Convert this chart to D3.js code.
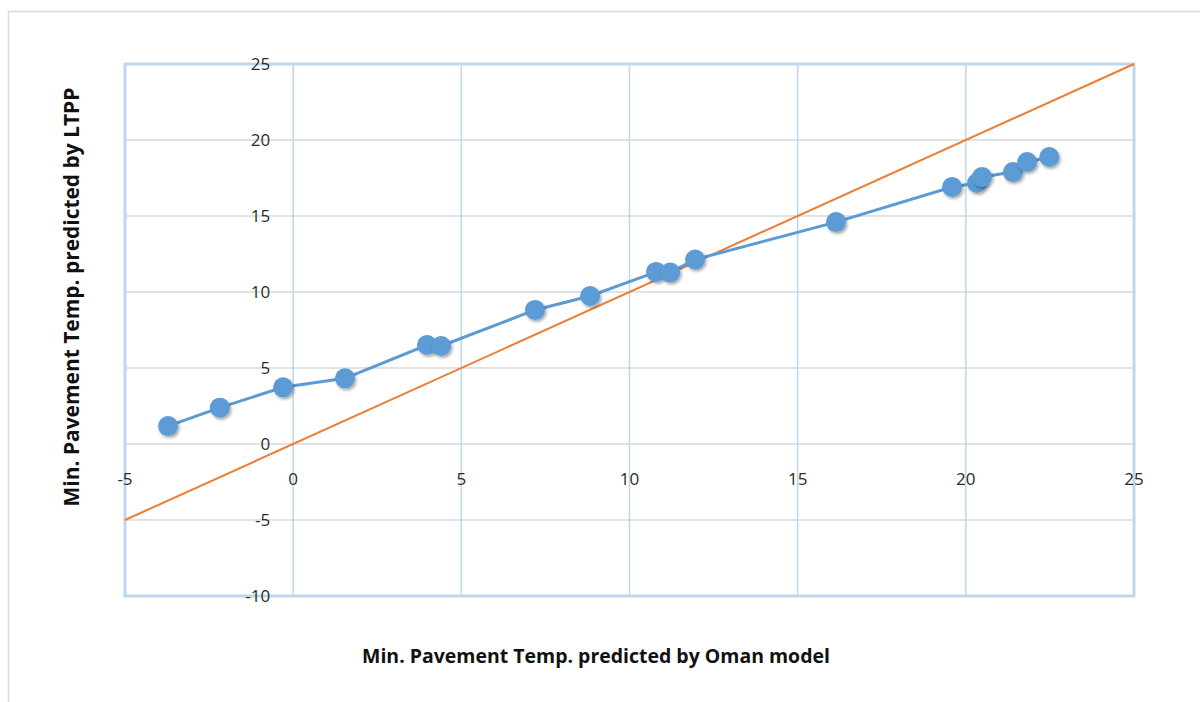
<!DOCTYPE html>
<html>
<head>
<meta charset="utf-8">
<script src="https://cdn.jsdelivr.net/npm/d3@7"></script>
<style>
  html, body { margin: 0; padding: 0; background: #fff; }
  svg { display: block; }
  text { font-family: "Open Sans", Lato, sans-serif; }
</style>
</head>
<body>
<svg id="chart" width="1200" height="702"></svg>
<script>
// Minimum pavement temperature: Oman model (x) vs LTPP (y)
const omanModel = [-3.72, -2.18, -0.30, 1.54, 3.98, 4.40, 7.19, 8.83, 10.79, 11.21, 11.95, 16.14, 19.59, 20.33, 20.48, 21.40, 21.82, 22.48];
const ltppModel = [1.18, 2.39, 3.73, 4.32, 6.51, 6.45, 8.82, 9.74, 11.32, 11.28, 12.14, 14.60, 16.91, 17.17, 17.57, 17.89, 18.55, 18.88];
// Line of equality
const equalityX = [-5, 25];
const equalityY = [-5, 25];

const xTicks = [-5, 0, 5, 10, 15, 20, 25];
const yTicks = [-10, -5, 0, 5, 10, 15, 20, 25];

const xTitle = "Min. Pavement Temp. predicted by Oman model";
const yTitle = "Min. Pavement Temp. predicted by LTPP";

const svg = d3.select("#chart");
const plot = { left: 125, right: 1134, top: 64, bottom: 596 };

const x = d3.scaleLinear().domain([-5, 25]).range([plot.left, plot.right]);
const y = d3.scaleLinear().domain([-10, 25]).range([plot.bottom, plot.top]);

// Outer chart frame
svg.append("rect")
  .attr("x", 8.5).attr("y", 11.5)
  .attr("width", 1400).attr("height", 900)
  .attr("fill", "#fff").attr("stroke", "#d9d9d9").attr("stroke-width", 1.5);

const defs = svg.append("defs");
const shadow = defs.append("filter").attr("id", "markerShadow")
  .attr("x", "-50%").attr("y", "-50%").attr("width", "200%").attr("height", "200%");
shadow.append("feDropShadow")
  .attr("dx", 1.5).attr("dy", 2).attr("stdDeviation", 1.8)
  .attr("flood-color", "#000").attr("flood-opacity", 0.35);

// Horizontal gridlines
svg.append("g")
  .selectAll("line")
  .data(yTicks)
  .join("line")
  .attr("x1", plot.left).attr("x2", plot.right)
  .attr("y1", d => y(d)).attr("y2", d => y(d))
  .attr("stroke", "#d9d9d9").attr("stroke-width", 1.5);

// Vertical gridlines
svg.append("g")
  .selectAll("line")
  .data(xTicks)
  .join("line")
  .attr("x1", d => x(d)).attr("x2", d => x(d))
  .attr("y1", plot.top).attr("y2", plot.bottom)
  .attr("stroke", "#bdd7ee").attr("stroke-width", 1.5);

// Plot area border
svg.append("rect")
  .attr("x", plot.left).attr("y", plot.top)
  .attr("width", plot.right - plot.left).attr("height", plot.bottom - plot.top)
  .attr("fill", "none").attr("stroke", "#bdd7ee").attr("stroke-width", 3);

// Tick labels: y labels sit beside the x = 0 line, x labels below the y = 0 line
svg.append("g")
  .selectAll("text")
  .data(yTicks)
  .join("text")
  .attr("x", x(0) - 23)
  .attr("y", d => y(d))
  .attr("dy", "0.36em")
  .attr("text-anchor", "end")
  .attr("font-size", 17)
  .attr("fill", "#2b2b2b")
  .text(d => d);

svg.append("g")
  .selectAll("text")
  .data(xTicks)
  .join("text")
  .attr("x", d => x(d))
  .attr("y", y(0) + 35)
  .attr("dy", "0.36em")
  .attr("text-anchor", "middle")
  .attr("font-size", 17)
  .attr("fill", "#2b2b2b")
  .text(d => d);

// Line of equality
const line = d3.line().x(d => x(d[0])).y(d => y(d[1]));
svg.append("path")
  .datum(d3.zip(equalityX, equalityY))
  .attr("d", line)
  .attr("fill", "none")
  .attr("stroke", "#ed7d31")
  .attr("stroke-width", 2);

// Model comparison series
const pts = d3.zip(omanModel, ltppModel).sort((a, b) => a[0] - b[0]);
svg.append("path")
  .datum(pts)
  .attr("d", line)
  .attr("fill", "none")
  .attr("stroke", "#5b9bd5")
  .attr("stroke-width", 3);

svg.append("g")
  .selectAll("circle")
  .data(pts)
  .join("circle")
  .attr("cx", d => x(d[0]))
  .attr("cy", d => y(d[1]))
  .attr("r", 10)
  .attr("fill", "#5b9bd5")
  .attr("filter", "url(#markerShadow)");

// Axis titles, sized so each spans its intended length
function fitTitle(sel, width) {
  sel.attr("font-size", 100);
  const w = sel.node().getComputedTextLength();
  sel.attr("font-size", 100 * width / w);
}

const xt = svg.append("text")
  .attr("x", 596).attr("y", 656)
  .attr("dy", "0.35em")
  .attr("text-anchor", "middle")
  .attr("font-weight", "bold")
  .attr("fill", "#111")
  .text(xTitle);
fitTitle(xt, 468);

const yt = svg.append("text")
  .attr("transform", "translate(72,297) rotate(-90)")
  .attr("dy", "0.35em")
  .attr("text-anchor", "middle")
  .attr("font-weight", "bold")
  .attr("fill", "#111")
  .text(yTitle);
fitTitle(yt, 419);
</script>
</body>
</html>
